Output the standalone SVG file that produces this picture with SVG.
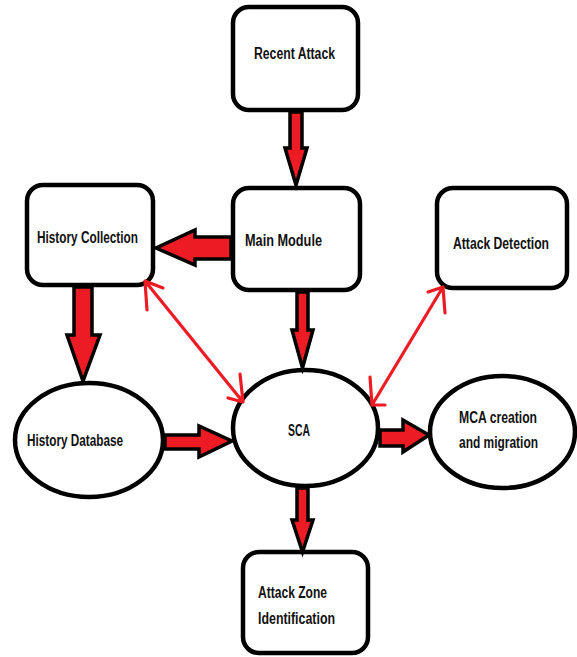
<svg xmlns="http://www.w3.org/2000/svg" width="577" height="657" viewBox="0 0 577 657">
<defs>
<style>
.box{fill:#fff;stroke:#000;stroke-width:4.5}
.ell{fill:#fff;stroke:#000;stroke-width:4.5}
.fat{fill:#ED1C24;stroke:#000;stroke-width:3.5;stroke-linejoin:miter}
.thin{fill:none;stroke:#ED1C24;stroke-width:3.2;stroke-linecap:round;stroke-linejoin:round}
text{font-family:"Liberation Sans",Arial,sans-serif;font-size:16px;font-weight:bold;fill:#111;text-anchor:start;dominant-baseline:central}
</style>
</defs>
<g id="recent-attack">
<rect class="box" x="233" y="7" width="125" height="103" rx="16"/>
<text x="254" y="53" textLength="81" lengthAdjust="spacingAndGlyphs">Recent Attack</text>
</g>
<g id="main-module">
<rect class="box" x="233" y="188" width="127" height="102" rx="16"/>
<text x="245" y="240" textLength="77" lengthAdjust="spacingAndGlyphs">Main Module</text>
</g>
<g id="history-collection">
<rect class="box" x="27" y="185" width="126" height="100" rx="16"/>
<text x="37" y="237" textLength="101" lengthAdjust="spacingAndGlyphs">History Collection</text>
</g>
<g id="attack-detection">
<rect class="box" x="437" y="188" width="130" height="100" rx="16"/>
<text x="453" y="243" textLength="96" lengthAdjust="spacingAndGlyphs">Attack Detection</text>
</g>
<g id="history-database">
<ellipse class="ell" cx="89" cy="440" rx="74" ry="57"/>
<text x="27" y="440" textLength="96" lengthAdjust="spacingAndGlyphs">History Database</text>
</g>
<g id="sca">
<ellipse class="ell" cx="305.5" cy="428" rx="72.5" ry="58"/>
<text x="288" y="430" textLength="22" lengthAdjust="spacingAndGlyphs">SCA</text>
</g>
<g id="mca">
<ellipse class="ell" cx="502.5" cy="432" rx="72.5" ry="56"/>
<text x="459" y="417" textLength="78" lengthAdjust="spacingAndGlyphs">MCA creation</text>
<text x="459" y="442" textLength="79" lengthAdjust="spacingAndGlyphs">and migration</text>
</g>
<g id="attack-zone">
<rect class="box" x="243" y="552" width="125" height="101" rx="16"/>
<text x="258" y="592" textLength="69" lengthAdjust="spacingAndGlyphs">Attack Zone</text>
<text x="258" y="618" textLength="77" lengthAdjust="spacingAndGlyphs">Identification</text>
</g>
<g id="connectors">
<path class="fat" d="M290,112 L302,112 L302,148 L307,148 L296,185 L285,148 L290,148 Z"/>
<path class="fat" d="M231,237 L195,237 L195,230 L156,248 L195,265 L195,259 L231,259 Z"/>
<path class="fat" d="M297,292 L308,292 L308,330 L313,330 L302.5,368 L292,330 L297,330 Z"/>
<path class="fat" d="M74,287 L92,287 L92,335 L100,335 L83,381 L67,335 L74,335 Z"/>
<path class="fat" d="M165,435 L199,435 L199,426 L232,441 L199,457 L199,449 L165,449 Z"/>
<path class="fat" d="M380,430 L403,430 L403,420 L429,435 L403,452 L403,446 L380,446 Z"/>
<path class="fat" d="M297,488 L308,488 L308,520 L313,520 L302.5,552 L292,520 L297,520 Z"/>
<path class="thin" d="M145,281 L243,402 M147,310 L145,281 L163,288 M240,374 L243,402 L228,398"/>
<path class="thin" d="M443,287 L372,405 M428,292 L443,287 L445,313 M370,377 L372,405 L385,405"/>
</g>
</svg>
